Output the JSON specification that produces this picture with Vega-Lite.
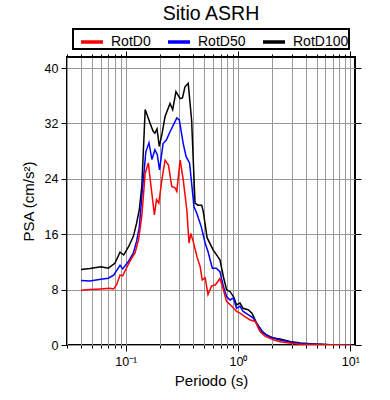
{
  "$schema": "https://vega.github.io/schema/vega-lite/v6.json",
  "width": 288,
  "height": 288,
  "autosize": {"type": "none"},
  "padding": {"left": 67, "top": 57, "right": 35, "bottom": 55},
  "background": "white",
  "config": {
    "font": "Liberation Sans",
    "view": {"stroke": "black", "strokeWidth": 2},
    "axis": {
      "labelFont": "Liberation Sans",
      "labelFontSize": 12.5,
      "labelColor": "black",
      "titleFont": "Liberation Sans",
      "titleFontSize": 15,
      "titleFontWeight": "normal",
      "titleColor": "black",
      "tickColor": "black",
      "tickWidth": 1,
      "domain": false,
      "gridColor": "#999999",
      "gridOpacity": 1,
      "gridWidth": 1
    }
  },
  "title": {
    "text": "Sitio ASRH",
    "font": "Liberation Sans",
    "fontSize": 19.5,
    "fontWeight": "normal",
    "color": "black",
    "anchor": "middle",
    "offset": 4
  },
  "data": {
    "values": [
      {"T": 0.04, "PSA": 10.9, "s": "RotD100"},
      {"T": 0.048, "PSA": 11.05, "s": "RotD100"},
      {"T": 0.06, "PSA": 11.3, "s": "RotD100"},
      {"T": 0.07, "PSA": 11.1, "s": "RotD100"},
      {"T": 0.08, "PSA": 11.8, "s": "RotD100"},
      {"T": 0.089, "PSA": 13.4, "s": "RotD100"},
      {"T": 0.096, "PSA": 13.0, "s": "RotD100"},
      {"T": 0.106, "PSA": 14.2, "s": "RotD100"},
      {"T": 0.117, "PSA": 15.7, "s": "RotD100"},
      {"T": 0.125, "PSA": 17.6, "s": "RotD100"},
      {"T": 0.132, "PSA": 19.5, "s": "RotD100"},
      {"T": 0.139, "PSA": 22.9, "s": "RotD100"},
      {"T": 0.149, "PSA": 34.0, "s": "RotD100"},
      {"T": 0.165, "PSA": 32.0, "s": "RotD100"},
      {"T": 0.175, "PSA": 30.9, "s": "RotD100"},
      {"T": 0.182, "PSA": 30.6, "s": "RotD100"},
      {"T": 0.19, "PSA": 31.2, "s": "RotD100"},
      {"T": 0.199, "PSA": 28.7, "s": "RotD100"},
      {"T": 0.211, "PSA": 30.6, "s": "RotD100"},
      {"T": 0.224, "PSA": 33.0, "s": "RotD100"},
      {"T": 0.248, "PSA": 34.9, "s": "RotD100"},
      {"T": 0.262, "PSA": 34.0, "s": "RotD100"},
      {"T": 0.28, "PSA": 36.6, "s": "RotD100"},
      {"T": 0.305, "PSA": 35.6, "s": "RotD100"},
      {"T": 0.32, "PSA": 35.7, "s": "RotD100"},
      {"T": 0.337, "PSA": 37.3, "s": "RotD100"},
      {"T": 0.36, "PSA": 37.8, "s": "RotD100"},
      {"T": 0.386, "PSA": 32.5, "s": "RotD100"},
      {"T": 0.414, "PSA": 20.5, "s": "RotD100"},
      {"T": 0.44, "PSA": 20.2, "s": "RotD100"},
      {"T": 0.475, "PSA": 20.2, "s": "RotD100"},
      {"T": 0.49, "PSA": 19.3, "s": "RotD100"},
      {"T": 0.53, "PSA": 15.5, "s": "RotD100"},
      {"T": 0.6, "PSA": 13.75, "s": "RotD100"},
      {"T": 0.69, "PSA": 12.3, "s": "RotD100"},
      {"T": 0.74, "PSA": 9.9, "s": "RotD100"},
      {"T": 0.79, "PSA": 8.0, "s": "RotD100"},
      {"T": 0.85, "PSA": 7.7, "s": "RotD100"},
      {"T": 0.91, "PSA": 7.0, "s": "RotD100"},
      {"T": 0.97, "PSA": 5.8, "s": "RotD100"},
      {"T": 1.04, "PSA": 6.06, "s": "RotD100"},
      {"T": 1.11, "PSA": 5.3, "s": "RotD100"},
      {"T": 1.23, "PSA": 5.1, "s": "RotD100"},
      {"T": 1.33, "PSA": 4.6, "s": "RotD100"},
      {"T": 1.46, "PSA": 3.2, "s": "RotD100"},
      {"T": 1.64, "PSA": 1.96, "s": "RotD100"},
      {"T": 1.81, "PSA": 1.4, "s": "RotD100"},
      {"T": 2.07, "PSA": 1.0, "s": "RotD100"},
      {"T": 2.37, "PSA": 0.87, "s": "RotD100"},
      {"T": 2.9, "PSA": 0.52, "s": "RotD100"},
      {"T": 3.6, "PSA": 0.29, "s": "RotD100"},
      {"T": 4.4, "PSA": 0.19, "s": "RotD100"},
      {"T": 6.6, "PSA": 0.04, "s": "RotD100"},
      {"T": 10, "PSA": 0.02, "s": "RotD100"},

      {"T": 0.04, "PSA": 9.3, "s": "RotD50"},
      {"T": 0.048, "PSA": 9.25, "s": "RotD50"},
      {"T": 0.06, "PSA": 9.5, "s": "RotD50"},
      {"T": 0.07, "PSA": 9.65, "s": "RotD50"},
      {"T": 0.078, "PSA": 10.1, "s": "RotD50"},
      {"T": 0.089, "PSA": 11.5, "s": "RotD50"},
      {"T": 0.094, "PSA": 11.0, "s": "RotD50"},
      {"T": 0.106, "PSA": 12.1, "s": "RotD50"},
      {"T": 0.117, "PSA": 13.3, "s": "RotD50"},
      {"T": 0.125, "PSA": 15.0, "s": "RotD50"},
      {"T": 0.132, "PSA": 17.0, "s": "RotD50"},
      {"T": 0.139, "PSA": 21.4, "s": "RotD50"},
      {"T": 0.151, "PSA": 27.9, "s": "RotD50"},
      {"T": 0.161, "PSA": 29.2, "s": "RotD50"},
      {"T": 0.171, "PSA": 26.8, "s": "RotD50"},
      {"T": 0.182, "PSA": 28.2, "s": "RotD50"},
      {"T": 0.191, "PSA": 27.5, "s": "RotD50"},
      {"T": 0.2, "PSA": 25.3, "s": "RotD50"},
      {"T": 0.215, "PSA": 29.1, "s": "RotD50"},
      {"T": 0.23, "PSA": 29.6, "s": "RotD50"},
      {"T": 0.248, "PSA": 30.8, "s": "RotD50"},
      {"T": 0.266, "PSA": 31.8, "s": "RotD50"},
      {"T": 0.285, "PSA": 32.8, "s": "RotD50"},
      {"T": 0.3, "PSA": 32.5, "s": "RotD50"},
      {"T": 0.325, "PSA": 29.1, "s": "RotD50"},
      {"T": 0.345, "PSA": 27.2, "s": "RotD50"},
      {"T": 0.37, "PSA": 26.3, "s": "RotD50"},
      {"T": 0.386, "PSA": 23.4, "s": "RotD50"},
      {"T": 0.405, "PSA": 20.0, "s": "RotD50"},
      {"T": 0.43, "PSA": 19.0, "s": "RotD50"},
      {"T": 0.47, "PSA": 17.1, "s": "RotD50"},
      {"T": 0.51, "PSA": 14.7, "s": "RotD50"},
      {"T": 0.54, "PSA": 13.5, "s": "RotD50"},
      {"T": 0.59, "PSA": 11.1, "s": "RotD50"},
      {"T": 0.64, "PSA": 11.1, "s": "RotD50"},
      {"T": 0.69, "PSA": 10.6, "s": "RotD50"},
      {"T": 0.74, "PSA": 8.5, "s": "RotD50"},
      {"T": 0.79, "PSA": 7.0, "s": "RotD50"},
      {"T": 0.85, "PSA": 6.5, "s": "RotD50"},
      {"T": 0.91, "PSA": 6.8, "s": "RotD50"},
      {"T": 0.97, "PSA": 5.3, "s": "RotD50"},
      {"T": 1.04, "PSA": 5.6, "s": "RotD50"},
      {"T": 1.11, "PSA": 4.85, "s": "RotD50"},
      {"T": 1.23, "PSA": 4.4, "s": "RotD50"},
      {"T": 1.37, "PSA": 3.9, "s": "RotD50"},
      {"T": 1.52, "PSA": 2.7, "s": "RotD50"},
      {"T": 1.7, "PSA": 1.63, "s": "RotD50"},
      {"T": 1.94, "PSA": 1.15, "s": "RotD50"},
      {"T": 2.3, "PSA": 0.76, "s": "RotD50"},
      {"T": 2.9, "PSA": 0.42, "s": "RotD50"},
      {"T": 3.6, "PSA": 0.22, "s": "RotD50"},
      {"T": 4.4, "PSA": 0.14, "s": "RotD50"},
      {"T": 6.6, "PSA": 0.03, "s": "RotD50"},
      {"T": 10, "PSA": 0.01, "s": "RotD50"},

      {"T": 0.04, "PSA": 7.9, "s": "RotD0"},
      {"T": 0.048, "PSA": 8.0, "s": "RotD0"},
      {"T": 0.06, "PSA": 8.1, "s": "RotD0"},
      {"T": 0.072, "PSA": 8.2, "s": "RotD0"},
      {"T": 0.078, "PSA": 8.1, "s": "RotD0"},
      {"T": 0.083, "PSA": 8.7, "s": "RotD0"},
      {"T": 0.089, "PSA": 10.1, "s": "RotD0"},
      {"T": 0.094, "PSA": 10.0, "s": "RotD0"},
      {"T": 0.1, "PSA": 10.9, "s": "RotD0"},
      {"T": 0.109, "PSA": 12.1, "s": "RotD0"},
      {"T": 0.121, "PSA": 13.3, "s": "RotD0"},
      {"T": 0.13, "PSA": 15.2, "s": "RotD0"},
      {"T": 0.139, "PSA": 18.6, "s": "RotD0"},
      {"T": 0.149, "PSA": 24.8, "s": "RotD0"},
      {"T": 0.159, "PSA": 26.3, "s": "RotD0"},
      {"T": 0.168, "PSA": 22.9, "s": "RotD0"},
      {"T": 0.18, "PSA": 18.8, "s": "RotD0"},
      {"T": 0.188, "PSA": 21.0, "s": "RotD0"},
      {"T": 0.197, "PSA": 20.5, "s": "RotD0"},
      {"T": 0.21, "PSA": 23.9, "s": "RotD0"},
      {"T": 0.224, "PSA": 26.7, "s": "RotD0"},
      {"T": 0.24, "PSA": 26.0, "s": "RotD0"},
      {"T": 0.257, "PSA": 22.9, "s": "RotD0"},
      {"T": 0.275, "PSA": 22.7, "s": "RotD0"},
      {"T": 0.285, "PSA": 22.2, "s": "RotD0"},
      {"T": 0.305, "PSA": 26.7, "s": "RotD0"},
      {"T": 0.325, "PSA": 23.9, "s": "RotD0"},
      {"T": 0.35, "PSA": 19.5, "s": "RotD0"},
      {"T": 0.366, "PSA": 14.7, "s": "RotD0"},
      {"T": 0.38, "PSA": 16.1, "s": "RotD0"},
      {"T": 0.4, "PSA": 14.9, "s": "RotD0"},
      {"T": 0.43, "PSA": 12.8, "s": "RotD0"},
      {"T": 0.46, "PSA": 11.3, "s": "RotD0"},
      {"T": 0.48, "PSA": 9.4, "s": "RotD0"},
      {"T": 0.51, "PSA": 9.7, "s": "RotD0"},
      {"T": 0.54, "PSA": 7.3, "s": "RotD0"},
      {"T": 0.58, "PSA": 8.5, "s": "RotD0"},
      {"T": 0.63, "PSA": 8.7, "s": "RotD0"},
      {"T": 0.69, "PSA": 9.6, "s": "RotD0"},
      {"T": 0.74, "PSA": 8.0, "s": "RotD0"},
      {"T": 0.79, "PSA": 6.3, "s": "RotD0"},
      {"T": 0.88, "PSA": 5.6, "s": "RotD0"},
      {"T": 0.97, "PSA": 4.85, "s": "RotD0"},
      {"T": 1.04, "PSA": 4.6, "s": "RotD0"},
      {"T": 1.15, "PSA": 4.1, "s": "RotD0"},
      {"T": 1.27, "PSA": 3.65, "s": "RotD0"},
      {"T": 1.42, "PSA": 3.4, "s": "RotD0"},
      {"T": 1.57, "PSA": 1.96, "s": "RotD0"},
      {"T": 1.75, "PSA": 1.24, "s": "RotD0"},
      {"T": 2.07, "PSA": 0.76, "s": "RotD0"},
      {"T": 2.37, "PSA": 0.48, "s": "RotD0"},
      {"T": 3.1, "PSA": 0.22, "s": "RotD0"},
      {"T": 3.6, "PSA": 0.12, "s": "RotD0"},
      {"T": 4.9, "PSA": 0.06, "s": "RotD0"},
      {"T": 6.6, "PSA": 0.02, "s": "RotD0"},
      {"T": 10, "PSA": 0.0, "s": "RotD0"}
    ]
  },
  "layer": [
    {
      "mark": {"type": "line", "strokeWidth": 1.5, "clip": true},
      "encoding": {
        "x": {
          "field": "T",
          "type": "quantitative",
          "scale": {"type": "log", "domain": [0.03, 11], "nice": false},
          "axis": {
            "orient": "bottom",
            "title": "Periodo (s)",
            "values": [0.03, 0.04, 0.05, 0.06, 0.07, 0.08, 0.09, 0.1, 0.2, 0.3, 0.4, 0.5, 0.6, 0.7, 0.8, 0.9, 1, 2, 3, 4, 5, 6, 7, 8, 9, 10],
            "labelExpr": "datum.value == 0.1 ? '10⁻¹' : datum.value == 1 ? '10⁰' : datum.value == 10 ? '10¹' : ''",
            "labelOverlap": false,
            "labelFlush": false,
            "labelPadding": 4,
            "grid": true,
            "tickSize": {"condition": {"test": "datum.value == 0.1 || datum.value == 1 || datum.value == 10", "value": 6}, "value": 3},
            "titlePadding": 6
          }
        },
        "y": {
          "field": "PSA",
          "type": "quantitative",
          "scale": {"domain": [0, 41.6], "nice": false},
          "axis": {
            "orient": "left",
            "title": "PSA (cm/s²)",
            "values": [0, 8, 16, 24, 32, 40],
            "grid": true,
            "tickSize": 6,
            "labelPadding": 3,
            "titlePadding": 8
          }
        },
        "color": {
          "field": "s",
          "type": "nominal",
          "scale": {"domain": ["RotD0", "RotD50", "RotD100"], "range": ["#ff0000", "#0000ff", "#000000"]},
          "legend": {
            "title": null,
            "orient": "none",
            "legendX": 6,
            "legendY": -28,
            "direction": "horizontal",
            "symbolType": "stroke",
            "symbolSize": 484,
            "symbolStrokeWidth": 3.5,
            "symbolOffset": 6,
            "labelFont": "Liberation Sans",
            "labelFontSize": 14,
            "labelColor": "black",
            "labelOffset": 6,
            "columnPadding": 9,
            "padding": 0,
            "strokeColor": "black",
            "fillColor": "white",
            "encode": {"legend": {"update": {"strokeWidth": {"value": 2}}}}
          }
        }
      }
    },
    {
      "mark": {"type": "line", "strokeOpacity": 0},
      "encoding": {
        "x": {
          "field": "T",
          "type": "quantitative",
          "axis": {
            "orient": "top",
            "title": null,
            "labels": false,
            "grid": false,
            "values": [0.03, 0.04, 0.05, 0.06, 0.07, 0.08, 0.09, 0.1, 0.2, 0.3, 0.4, 0.5, 0.6, 0.7, 0.8, 0.9, 1, 2, 3, 4, 5, 6, 7, 8, 9, 10],
            "tickSize": {"condition": {"test": "datum.value == 0.1 || datum.value == 1 || datum.value == 10", "value": 6}, "value": 3}
          }
        },
        "y": {
          "field": "PSA",
          "type": "quantitative",
          "axis": {
            "orient": "right",
            "title": null,
            "labels": false,
            "grid": false,
            "values": [0, 8, 16, 24, 32, 40],
            "tickSize": 6
          }
        },
        "detail": {"field": "s"}
      }
    }
  ],
  "resolve": {"axis": {"x": "independent", "y": "independent"}}
}
